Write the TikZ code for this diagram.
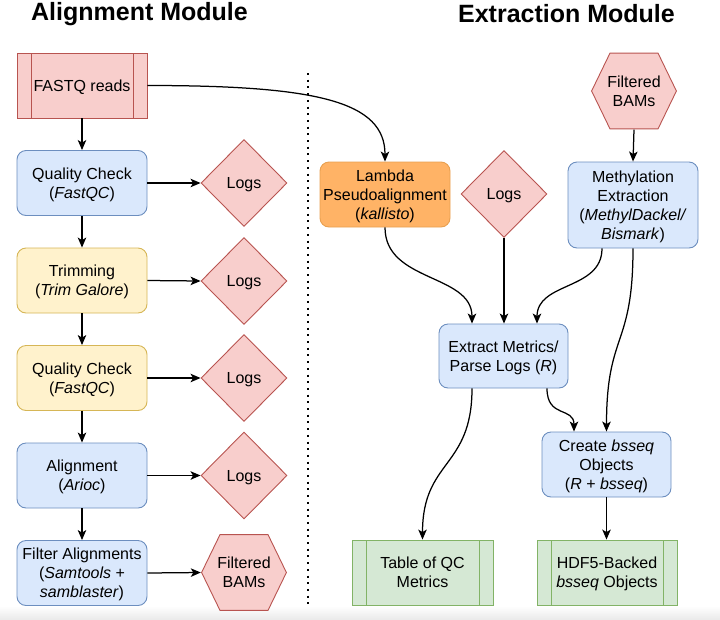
\documentclass[tikz,border=0pt]{standalone}
\usepackage{fontspec}
\setmainfont{Liberation Sans}
\usetikzlibrary{shapes.geometric,arrows.meta,calc}
\definecolor{bluef}{HTML}{DAE8FC}
\definecolor{bluel}{HTML}{6C8EBF}
\definecolor{yelf}{HTML}{FFF2CC}
\definecolor{yell}{HTML}{D6B656}
\definecolor{redf}{HTML}{F8CECC}
\definecolor{redl}{HTML}{B85450}
\definecolor{grnf}{HTML}{D5E8D4}
\definecolor{grnl}{HTML}{82B366}
\definecolor{orgf}{HTML}{FFB366}
\definecolor{orgl}{HTML}{E8A050}
\tikzset{
  txt/.style={font=\fontsize{16}{19}\selectfont, align=center, inner sep=0pt, text depth=0pt},
  box/.style={txt, rectangle, rounded corners=9pt, minimum width=130pt, minimum height=65pt, line width=0.9pt},
  bluebox/.style={box, fill=bluef, draw=bluel},
  yelbox/.style={box, fill=yelf, draw=yell},
  orgbox/.style={box, fill=orgf, draw=orgl},
  logsd/.style={txt, diamond, aspect=1, minimum width=86pt, minimum height=87pt, fill=redf, draw=redl, line width=0.9pt},
  procbox/.style 2 args={txt, rectangle, minimum height=65pt, fill=#1, draw=#2, line width=0.9pt,
    path picture={\draw[#2, line width=0.9pt]
      ([xshift=14pt]path picture bounding box.north west) -- ([xshift=14pt]path picture bounding box.south west)
      ([xshift=-14pt]path picture bounding box.north east) -- ([xshift=-14pt]path picture bounding box.south east);}},
  hexn/.style={txt, rectangle, minimum width=86pt, minimum height=77pt,
    path picture={\path[fill=redf, draw=redl, line width=0.9pt]
      ([xshift=0.6pt]path picture bounding box.west)
      -- ([xshift=19pt,yshift=-0.6pt]path picture bounding box.north west)
      -- ([xshift=-19pt,yshift=-0.6pt]path picture bounding box.north east)
      -- ([xshift=-0.6pt]path picture bounding box.east)
      -- ([xshift=-19pt,yshift=0.6pt]path picture bounding box.south east)
      -- ([xshift=19pt,yshift=0.6pt]path picture bounding box.south west) -- cycle;}},
  title/.style={font=\fontsize{25}{29}\selectfont\bfseries, inner sep=0pt},
  arr/.style={-{Stealth[length=10pt,width=8.5pt,inset=2.5pt]}, line width=1.25pt, black},
}
\begin{document}
\begin{tikzpicture}[x=1pt,y=-1pt]
\useasboundingbox (0,0) rectangle (720,619);
\shade[top color=white, bottom color=black!8] (0,606) rectangle (720,619);

\node[title] (t1) at (139.5,14) {Alignment Module};
\node[title] (t2) at (566.5,14) {Extraction Module};

\coordinate (dtop) at (308,73);
\coordinate (dbot) at (308,606);
\draw[line width=2pt, dash pattern=on 2pt off 4.7pt] (dtop) -- (dbot);

% left column
\node[procbox={redf}{redl}, minimum width=130pt] (fastq) at (82,85.5) {FASTQ reads};
\node[bluebox] (qc1) at (82,183) {Quality Check\\(\textit{FastQC})};
\node[yelbox] (trim) at (82,280.5) {Trimming\\(\textit{Trim Galore})};
\node[yelbox] (qc2) at (82,378) {Quality Check\\(\textit{FastQC})};
\node[bluebox] (aln) at (82,475.5) {Alignment\\(\textit{Arioc})};
\node[bluebox] (filt) at (82,573) {Filter Alignments\\(\textit{Samtools} +\\\textit{samblaster})};

\node[logsd] (l1) at (244,183) {Logs};
\node[logsd] (l2) at (244,281) {Logs};
\node[logsd] (l3) at (244,378) {Logs};
\node[logsd] (l4) at (244,475.5) {Logs};
\node[hexn] (fb1) at (244,572.5) {Filtered\\BAMs};

\draw[arr] (fastq) -- (qc1);
\draw[arr] (qc1) -- (trim);
\draw[arr] (trim) -- (qc2);
\draw[arr] (qc2) -- (aln);
\draw[arr] (aln) -- (filt);
\draw[arr] (qc1.east) -- (l1.west);
\draw[arr] (trim.east) -- (l2.west);
\draw[arr] (qc2.east) -- (l3.west);
\draw[arr] (aln.east) -- (l4.west);
\draw[arr] (filt.east) -- (fb1.west);

% right side
\node[orgbox] (lam) at (385,194.5) {Lambda\\Pseudoalignment\\(\textit{kallisto})};
\node[logsd] (l5) at (504,194) {Logs};
\node[hexn] (fb2) at (634,91) {Filtered\\BAMs};
\node[bluebox, minimum height=86pt] (meth) at (633,205) {Methylation\\Extraction\\(\textit{MethylDackel/}\\\textit{Bismark})};
\node[bluebox, minimum width=129pt, minimum height=64pt] (ext) at (503.5,356) {Extract Metrics/\\Parse Logs (\textit{R})};
\node[bluebox, minimum width=129pt] (cre) at (606.5,464.5) {Create \textit{bsseq}\\Objects\\(\textit{R} + \textit{bsseq})};
\node[procbox={grnf}{grnl}, minimum width=141pt] (tab) at (422.5,572.5) {Table of QC\\Metrics};
\node[procbox={grnf}{grnl}, minimum width=140pt] (hdf) at (607,572.5) {HDF5-Backed\\\textit{bsseq} Objects};

\draw[arr] (fastq.east) .. controls +(170,0) and +(0,-60) .. (lam.north);
\draw[arr] (fb2.south) -- (meth.north);
\draw[arr] (lam.south) .. controls +(0,55) and +(0,-50) .. ([xshift=-31.5pt]ext.north);
\draw[arr] (l5.south) -- (l5.south |- ext.north);
\draw[arr] ([xshift=-31pt]meth.south) .. controls +(0,42) and +(0,-42) .. ([xshift=33.5pt]ext.north);
\draw[arr] (meth.south) .. controls +(0,100) and +(0,-100) .. (cre.north);
\draw[arr] ([xshift=-31.5pt]ext.south) .. controls +(0,80) and +(0,-80) .. (tab.north);
\draw[arr] ([xshift=43.5pt]ext.south) .. controls +(0,30) and +(0,-25) .. ([xshift=-32.5pt]cre.north);
\draw[arr] (cre.south) -- (cre.south |- hdf.north);
\end{tikzpicture}
\end{document}
